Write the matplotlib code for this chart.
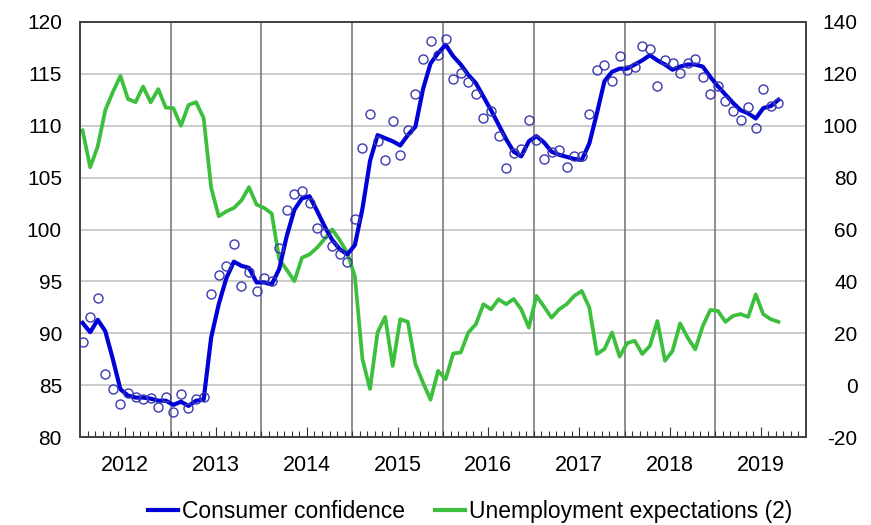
# Consumer confidence vs unemployment expectations, monthly 2012-2019
import matplotlib
matplotlib.use('Agg')
import matplotlib.pyplot as plt
import numpy as np

plt.rcParams['font.family'] = ['Liberation Sans', 'DejaVu Sans']
plt.rcParams['axes.unicode_minus'] = False

# monthly values, Jan 2012 .. Sep 2019
confidence_trend = [91.0, 90.1, 91.3, 90.2, 87.5, 84.6, 84.0, 83.8, 83.8, 83.7, 83.5, 83.5,
                    83.1, 83.4, 83.0, 83.5, 83.6, 89.6, 92.8, 95.3, 96.9, 96.5, 96.3, 94.9,
                    94.9, 94.7, 96.2, 99.4, 101.9, 103.0, 103.2, 101.8, 100.3, 99.0, 98.1, 97.6,
                    98.5, 102.0, 106.6, 109.1, 108.8, 108.5, 108.1, 109.1, 109.9, 113.5, 116.0, 117.0,
                    117.8, 116.7, 115.9, 114.9, 114.1, 112.8, 111.5, 110.1, 108.7, 107.5, 107.05, 108.5,
                    109.0, 108.4, 107.5, 107.2, 107.0, 106.8, 106.7, 108.3, 111.2, 114.3, 115.2, 115.5,
                    115.5, 115.9, 116.3, 116.8, 116.3, 115.9, 115.4, 115.7, 115.9, 115.9, 115.7, 114.7,
                    113.8, 113.0, 112.2, 111.5, 111.2, 110.7, 111.7, 111.9, 112.5]

confidence_raw = [89.2, 91.6, 93.4, 86.1, 84.6, 83.2, 84.2, 83.9, 83.7, 83.8, 82.9, 83.9,
                  82.4, 84.1, 82.8, 83.7, 83.9, 93.8, 95.6, 96.5, 98.65, 94.6, 95.9, 94.1,
                  95.3, 95.0, 98.2, 101.9, 103.4, 103.75, 102.6, 100.1, 99.7, 98.4, 97.6, 96.9,
                  101.0, 107.85, 111.1, 108.5, 106.7, 110.5, 107.15, 109.6, 113.1, 116.4, 118.2, 116.8,
                  118.4, 114.5, 115.1, 114.2, 113.1, 110.7, 111.4, 109.0, 105.9, 107.4, 107.8, 110.6,
                  108.6, 106.8, 107.5, 107.7, 106.0, 107.05, 107.05, 111.15, 115.4, 115.9, 114.3, 116.7,
                  115.4, 115.7, 117.7, 117.4, 113.8, 116.3, 116.0, 115.1, 116.0, 116.4, 114.7, 113.1,
                  113.8, 112.4, 111.4, 110.6, 111.8, 109.8, 113.5, 111.9, 112.2]

unemployment = [98.2, 84.0, 92.0, 106.0, 113.0, 119.2, 110.3, 109.1, 115.1, 109.0, 114.1, 107.0,
                106.8, 100.0, 108.0, 109.1, 103.0, 76.0, 65.1, 67.0, 68.3, 71.2, 76.3, 69.6,
                68.3, 66.2, 48.5, 44.4, 40.1, 49.1, 50.4, 53.0, 56.4, 60.0, 55.9, 51.0,
                42.0, 10.0, -1.5, 20.3, 26.3, 7.4, 25.4, 24.4, 8.1, 1.0, -5.6, 5.5,
                2.3, 12.2, 12.6, 20.3, 23.5, 31.2, 29.2, 33.1, 31.2, 33.2, 29.2, 22.2,
                34.4, 30.3, 26.0, 29.2, 31.2, 34.4, 36.3, 29.9, 12.0, 13.9, 20.3, 11.0,
                16.2, 17.1, 12.0, 15.1, 24.7, 9.4, 13.2, 23.8, 18.3, 13.8, 22.8, 29.0,
                28.6, 24.4, 26.7, 27.4, 26.3, 35.0, 27.3, 25.4, 24.4]

years = [2012, 2013, 2014, 2015, 2016, 2017, 2018, 2019]

x = 2012 + (np.arange(len(confidence_trend)) + 0.35) / 12

fig = plt.figure(figsize=(8.71, 5.25), dpi=100)
ax2 = fig.add_axes([0.0918, 0.1676, 0.8336, 0.7905])   # right scale, bottom layer
ax = ax2.twinx()                                          # left scale, top layer
ax.yaxis.tick_left()
ax2.yaxis.tick_right()
ax.set_zorder(ax2.get_zorder() + 1)
ax.patch.set_visible(False)

# grid on bottom layer
for v in range(-20, 141, 20):
    ax2.axhline(v, color='#c8c8c8', lw=1.3, zorder=0)
for yr in years[1:]:
    ax2.axvline(yr, color='#7a7a7a', lw=1.2, zorder=0)

ax2.plot(x, unemployment, color='#3cbf3c', lw=2.7, zorder=2)
ax.plot(x, confidence_trend, color='#0000d8', lw=3.0, zorder=3)
ax.plot(x, confidence_raw, 'o', mfc='none', mec='#3a3ab0', ms=6.5, mew=1.0, zorder=4)

ax2.set_xlim(2012, 2020)
ax2.set_ylim(-20, 140)
ax.set_ylim(80, 120)
ax2.set_yticks(range(-20, 141, 20))
ax.set_yticks(range(80, 121, 5))

ax2.set_xticks([y + 0.5 for y in years])
ax2.set_xticklabels([str(y) for y in years])
ax2.set_xticks(2012 + np.arange(1, 96) / 12, minor=True)
ax2.tick_params(axis='x', which='major', direction='in', length=7, width=0.8,
                labelsize=15.5, pad=13, color='#333333')
ax2.tick_params(axis='x', which='minor', direction='in', length=4, width=0.8, color='#333333')
ax.tick_params(axis='y', length=0, labelsize=15, pad=13)
ax2.tick_params(axis='y', length=0, labelsize=15, pad=37)
for lab in ax2.get_yticklabels():
    lab.set_horizontalalignment('right')

for a in (ax, ax2):
    for s in a.spines.values():
        s.set_color('#444444')
        s.set_linewidth(1.4)

ax2.plot([], [], color='#0000d8', lw=3.0, label='Consumer confidence')
ax2.plot([], [], color='#3cbf3c', lw=3.0, label='Unemployment expectations (2)')
fig.legend(*ax2.get_legend_handles_labels(), loc='lower center', bbox_to_anchor=(0.54, -0.035),
           ncol=2, frameon=False, fontsize=16.5, handlelength=1.3, handletextpad=0.2,
           columnspacing=1.3)

fig.savefig('out.png', dpi=100)
